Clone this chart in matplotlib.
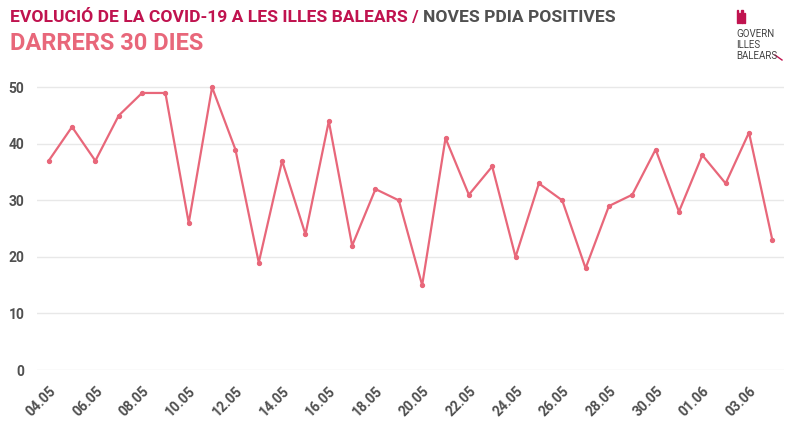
import matplotlib
matplotlib.use('Agg')
import matplotlib.pyplot as plt
from matplotlib.patches import Rectangle
from matplotlib.lines import Line2D

# dades: noves PDIA positives, darrers 30 dies
dies = ['04.05', '05.05', '06.05', '07.05', '08.05', '09.05', '10.05', '11.05',
        '12.05', '13.05', '14.05', '15.05', '16.05', '17.05', '18.05', '19.05',
        '20.05', '21.05', '22.05', '23.05', '24.05', '25.05', '26.05', '27.05',
        '28.05', '29.05', '30.05', '31.05', '01.06', '02.06', '03.06', '04.06']
positius = [37, 43, 37, 45, 49, 49, 26, 50, 39, 19, 37, 24, 44, 22, 32, 30,
            15, 41, 31, 36, 20, 33, 30, 18, 29, 31, 39, 28, 38, 33, 42, 23]
yticks = [0, 10, 20, 30, 40, 50]

granat = '#c0134f'
rosa = '#e8677a'
gris = '#505050'
plt.rcParams['font.family'] = ['Roboto', 'DejaVu Sans']

W, H = 800, 428
fig = plt.figure(figsize=(W / 100, H / 100), dpi=100)
ax = fig.add_axes([37 / W, (H - 370) / H, (784 - 37) / W, 294 / H])

x = list(range(len(dies)))
ax.plot(x, positius, color=rosa, lw=1.6, marker='o', ms=2.8, zorder=3)

ax.set_xlim(-0.5, len(dies) - 0.5)
ax.set_ylim(0, 52)
ax.set_yticks(yticks)
ax.set_yticklabels([str(v) for v in yticks])
ax.set_xticks(x[::2])
ax.set_xticklabels(dies[::2], rotation=45, ha='right', rotation_mode='anchor')
ax.grid(axis='y', color='#e8e8e8', lw=1)
ax.set_axisbelow(True)
for s in ax.spines.values():
    s.set_visible(False)
ax.tick_params(length=0, labelsize=10, labelcolor=gris)
ax.tick_params(axis='x', pad=10)
ax.tick_params(axis='y', pad=9)
for lab in ax.get_xticklabels() + ax.get_yticklabels():
    lab.set_fontweight('bold')

# titols
t1 = fig.text(10 / W, 1 - 22 / H, 'EVOLUCIÓ DE LA COVID-19 A LES ILLES BALEARS / ',
              color=granat, fontsize=12.6, fontweight='bold')
fig.canvas.draw()
bb = t1.get_window_extent()
fig.text(bb.x1 / W, 1 - 22 / H, 'NOVES PDIA POSITIVES', color=gris,
         fontsize=12.6, fontweight='bold')
fig.text(10 / W, 1 - 50 / H, 'DARRERS 30 DIES', color=rosa, fontsize=17,
         fontweight='bold')

# logo
for i, bx in enumerate([737, 739.2, 741.4, 743.6]):
    h = 13 if i % 2 == 0 else 10
    fig.patches.append(Rectangle((bx / W, 1 - 23 / H), 1.1 / W, h / H,
                                 transform=fig.transFigure, color=granat))
fig.text(736 / W, 1 - 29 / H, 'GOVERN\nILLES\nBALEARS', color='#444444',
         fontsize=7, linespacing=1.12, va='top')
fig.lines.append(Line2D([775 / W, 782 / W], [1 - 55 / H, 1 - 60 / H],
                        transform=fig.transFigure, color=granat, lw=1))

fig.savefig('out.png', dpi=100)
